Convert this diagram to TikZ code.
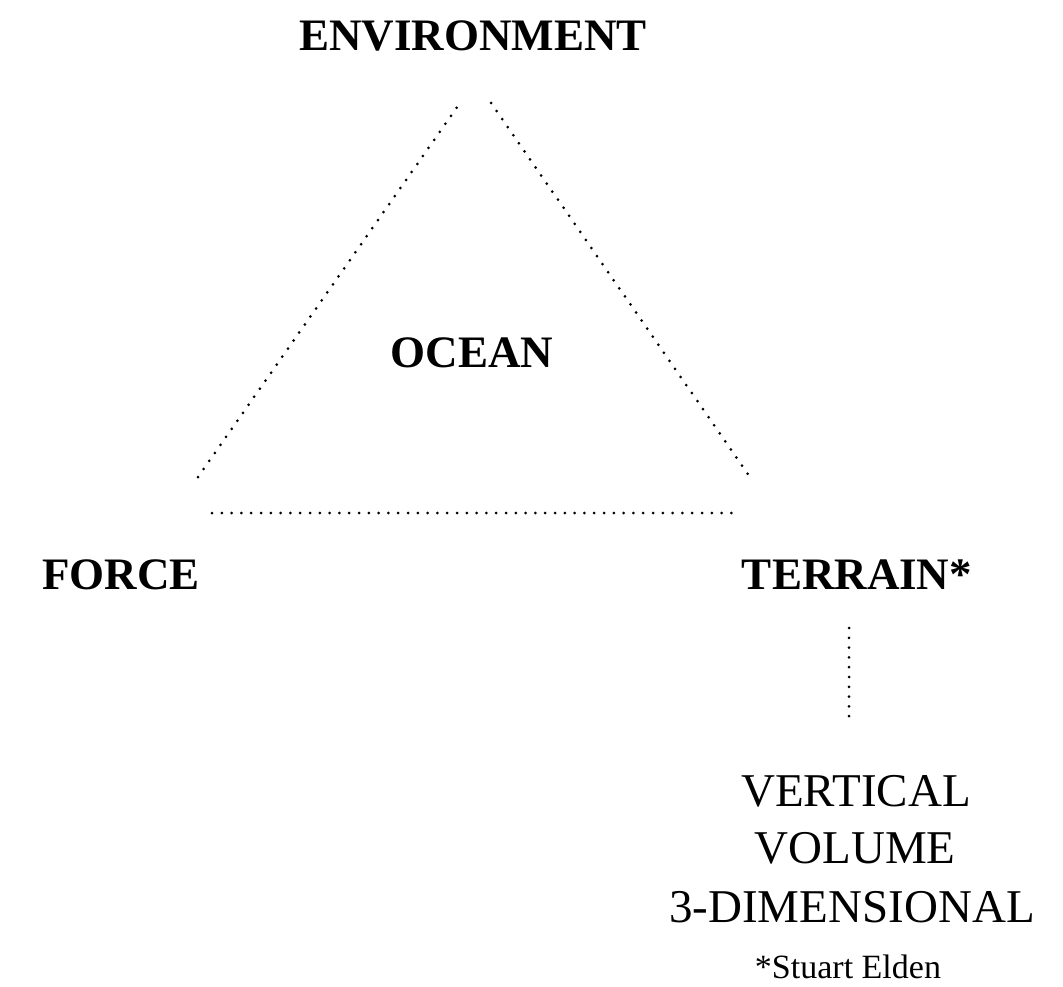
\documentclass[tikz,border=0pt]{standalone}
\usepackage{fontspec}
\setmainfont{Liberation Serif}
\tikzset{
  dotline/.style={line width=3pt, line cap=round, dash pattern=on 0pt off 9.8pt},
  boldlabel/.style={font=\fontsize{45}{54}\selectfont\bfseries, anchor=base, inner sep=0pt},
  plainlabel/.style={font=\fontsize{47}{56}\selectfont, anchor=base, inner sep=0pt},
  notelabel/.style={font=\fontsize{34}{40}\selectfont, anchor=base, inner sep=0pt}
}
\begin{document}
\begin{tikzpicture}[x=1pt,y=-1pt]
\useasboundingbox (0,0) rectangle (1063,987);
\node[boldlabel] (env) at (473,51) {ENVIRONMENT};
\node[boldlabel] (ocean) at (472,367) {OCEAN};
\node[boldlabel] (force) at (121,589) {FORCE};
\node[boldlabel] (terrain) at (857,589) {TERRAIN*};
\node[plainlabel] (vert) at (856,806) {VERTICAL};
\node[plainlabel] (vol) at (855,863) {VOLUME};
\node[plainlabel] (dim) at (852,922) {3-DIMENSIONAL};
\node[notelabel] (note) at (848,978) {*Stuart Elden};
\coordinate (l1) at (198,477);
\coordinate (l2) at (460,103);
\coordinate (r1) at (491,103);
\coordinate (r2) at (752,480);
\coordinate (b1) at (212,513);
\coordinate (b2) at (735,513);
\coordinate (v1) at (849,628);
\coordinate (v2) at (849,722);
\draw[dotline] (l1) -- (l2);
\draw[dotline] (r1) -- (r2);
\draw[dotline] (b1) -- (b2);
\draw[dotline] (v1) -- (v2);
\end{tikzpicture}
\end{document}
